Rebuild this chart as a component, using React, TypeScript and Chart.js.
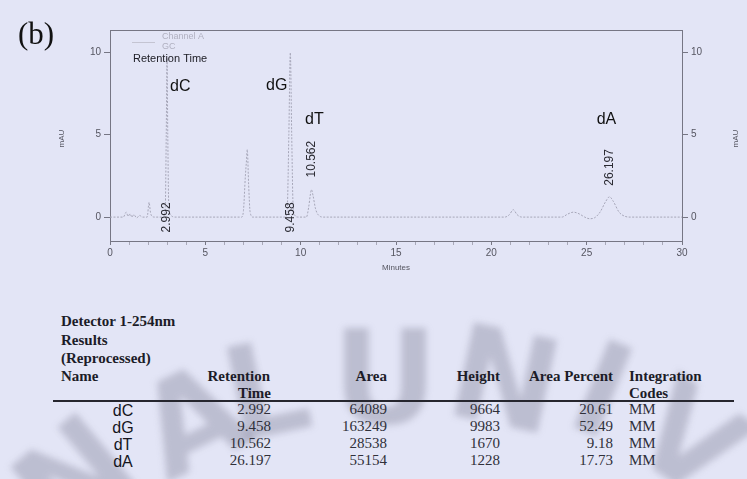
import React, { useEffect, useRef } from 'react';
import { Chart, registerables } from 'chart.js';

Chart.register(...registerables);

// ---------- chromatogram data (minutes, mAU) ----------
const times = [
  0, 0.7, 0.85, 0.95, 1.05, 1.15, 1.25, 1.4, 1.55, 1.7,
  1.95, 2.05, 2.12, 2.2, 2.35, 2.8, 2.9, 2.95, 2.992, 3.03,
  3.08, 3.2, 3.4, 6.9, 7.0, 7.1, 7.15, 7.2, 7.27, 7.35,
  7.5, 9.2, 9.3, 9.38, 9.458, 9.53, 9.6, 9.7, 9.85, 10.3,
  10.42, 10.5, 10.562, 10.65, 10.78, 10.95, 11.2, 20.7, 20.95, 21.15,
  21.35, 21.6, 23.7, 24.0, 24.3, 24.6, 24.9, 25.15, 25.4, 25.7,
  26.0, 26.197, 26.4, 26.7, 27.0, 27.3, 30,
];
const signal = [
  0, 0, 0.3, 0.05, 0.2, 0.0, 0.15, -0.05, 0.1, 0.0,
  0.0, 0.9, 0.3, 0.05, 0, 0, 0.6, 5.0, 9.66, 5.0,
  0.8, 0.1, 0, 0, 0.4, 2.5, 3.3, 4.1, 2.0, 0.3,
  0, 0, 0.6, 5.0, 9.98, 5.0, 0.8, 0.1, 0, 0,
  0.6, 1.3, 1.67, 1.3, 0.5, 0.1, 0, 0, 0.15, 0.45,
  0.15, 0, 0, 0.18, 0.3, 0.2, 0.0, -0.1, -0.05, 0.3,
  0.95, 1.23, 0.95, 0.3, 0.05, 0, 0,
];

// ---------- peaks / table ----------
const peakNames = ['dC', 'dG', 'dT', 'dA'];
const retentionTimes = ['2.992', '9.458', '10.562', '26.197'];
const areas = ['64089', '163249', '28538', '55154'];
const heights = ['9664', '9983', '1670', '1228'];
const areaPercents = ['20.61', '52.49', '9.18', '17.73'];
const codes = ['MM', 'MM', 'MM', 'MM'];

// ---------- axes ----------
const xMin = 0;
const xMax = 30;
const yMin = -1.45;
const yMax = 11.35;
const yTickValues = [0, 5, 10];

const SANS = 'Arial, "Liberation Sans", sans-serif';
const SERIF = '"Times New Roman", "Liberation Serif", serif';

const annotPlugin = {
  id: 'annot',
  afterDraw(chart: any) {
    const { ctx, chartArea: a, scales } = chart;
    const xs = scales.x;
    const ys = scales.y;
    const px = (v: number) => xs.getPixelForValue(v);
    const py = (v: number) => ys.getPixelForValue(v);
    ctx.save();
    // top frame line
    ctx.strokeStyle = '#767684';
    ctx.lineWidth = 1;
    ctx.beginPath();
    ctx.moveTo(a.left, Math.round(a.top) + 0.5);
    ctx.lineTo(a.right, Math.round(a.top) + 0.5);
    ctx.stroke();

    // legend
    ctx.strokeStyle = '#c4c4d2';
    ctx.beginPath();
    ctx.moveTo(a.left + 22, a.top + 12.5);
    ctx.lineTo(a.left + 45, a.top + 12.5);
    ctx.stroke();
    ctx.fillStyle = '#b0b0c0';
    ctx.font = `9px ${SANS}`;
    ctx.textBaseline = 'middle';
    ctx.textAlign = 'left';
    ctx.fillText('Channel A', a.left + 52, a.top + 7);
    ctx.fillText('GC', a.left + 52, a.top + 17);
    ctx.fillStyle = '#202028';
    ctx.font = `11px ${SANS}`;
    ctx.fillText('Retention Time', a.left + 23, a.top + 29);

    // peak names
    ctx.fillStyle = '#111';
    ctx.font = `16px ${SANS}`;
    const rt = retentionTimes.map(Number);
    ctx.textAlign = 'left';
    ctx.fillText(peakNames[0], px(rt[0]) + 3, py(7.9));
    ctx.textAlign = 'right';
    ctx.fillText(peakNames[1], px(rt[1]) - 3, py(7.95));
    ctx.textAlign = 'center';
    ctx.fillText(peakNames[2], px(rt[2]) + 3, py(5.9));
    ctx.fillText(peakNames[3], px(rt[3]) - 3, py(5.9));

    // rotated retention time labels
    const bottoms = [-0.93, -0.93, 2.4, 1.9];
    ctx.font = `12px ${SANS}`;
    ctx.fillStyle = '#2a2a32';
    rt.forEach((t, i) => {
      ctx.save();
      ctx.translate(px(t), py(bottoms[i]));
      ctx.rotate(-Math.PI / 2);
      ctx.textAlign = 'left';
      ctx.textBaseline = 'middle';
      ctx.fillText(retentionTimes[i], 0, 0);
      ctx.restore();
    });

    // axis titles
    ctx.fillStyle = '#555560';
    ctx.font = `8px ${SANS}`;
    const midY = (a.top + a.bottom) / 2 + 3;
    [62, 736].forEach((x) => {
      ctx.save();
      ctx.translate(x, midY);
      ctx.rotate(-Math.PI / 2);
      ctx.textAlign = 'center';
      ctx.textBaseline = 'middle';
      ctx.fillText('mAU', 0, 0);
      ctx.restore();
    });
    ctx.textAlign = 'center';
    ctx.textBaseline = 'middle';
    ctx.fillText('Minutes', (a.left + a.right) / 2, a.bottom + 27);
    ctx.restore();
  },
};

function ChromChart() {
  const ref = useRef<HTMLCanvasElement | null>(null);
  useEffect(() => {
    if (!ref.current) return;
    const fixTicks = (s: any) => {
      s.ticks = yTickValues.map((v) => ({ value: v }));
    };
    const yCommon = (w: number) => ({
      min: yMin,
      max: yMax,
      afterBuildTicks: fixTicks,
      afterFit: (s: any) => {
        s.width = w;
      },
      ticks: { color: '#555560', font: { family: SANS, size: 10 }, padding: 3 },
      grid: { drawOnChartArea: false, drawTicks: true, tickLength: 6, tickColor: '#767684' },
      border: { display: true, color: '#767684' },
    });
    const chart = new Chart(ref.current, {
      type: 'line',
      data: {
        datasets: [
          {
            data: times.map((t, i) => ({ x: t, y: signal[i] })),
            borderColor: '#a6a6b8',
            borderWidth: 1,
            borderDash: [2, 1.5],
            pointRadius: 0,
            cubicInterpolationMode: 'monotone',
            fill: false,
          },
        ],
      },
      options: {
        animation: false,
        responsive: false,
        devicePixelRatio: 1,
        layout: { padding: { top: 30, left: 0, right: 0, bottom: 0 } },
        plugins: { legend: { display: false }, tooltip: { enabled: false } },
        scales: {
          x: {
            type: 'linear',
            min: xMin,
            max: xMax,
            afterFit: (s: any) => {
              s.height = 49;
            },
            ticks: {
              stepSize: 1,
              autoSkip: false,
              maxRotation: 0,
              color: '#555560',
              font: { family: SANS, size: 10 },
              padding: 2,
              callback: (v: any) => (Number(v) % 5 === 0 ? String(v) : ''),
            },
            grid: {
              drawOnChartArea: false,
              drawTicks: true,
              tickLength: 4,
              tickColor: (c: any) => (c.tick && c.tick.value % 5 === 0 ? '#767684' : '#a8a8b8'),
            },
            border: { display: true, color: '#767684' },
          },
          y: { position: 'left', ...yCommon(110) },
          y2: { position: 'right', ...yCommon(65) },
        } as any,
      },
      plugins: [annotPlugin],
    } as any);
    return () => chart.destroy();
  }, []);
  return (
    <canvas
      ref={ref}
      width={747}
      height={290}
      style={{ position: 'absolute', left: 0, top: 0, width: 747, height: 290 }}
    />
  );
}

type TxtProps = {
  x: number;
  y: number;
  align?: 'left' | 'right' | 'center';
  style?: React.CSSProperties;
  children: React.ReactNode;
};
function Txt({ x, y, align = 'left', style, children }: TxtProps) {
  const tx = align === 'left' ? '0' : align === 'right' ? '-100%' : '-50%';
  return (
    <span
      style={{
        position: 'absolute',
        left: x,
        top: y,
        transform: `translate(${tx}, -50%)`,
        whiteSpace: 'nowrap',
        lineHeight: 1,
        ...style,
      }}
    >
      {children}
    </span>
  );
}

const watermark = [
  { ch: 'N', x: 75, y: 478, r: -40 },
  { ch: 'A', x: 192, y: 420, r: -26 },
  { ch: 'L', x: 266, y: 390, r: -12 },
  { ch: 'U', x: 385, y: 378, r: 0 },
  { ch: 'N', x: 505, y: 380, r: 12 },
  { ch: 'I', x: 602, y: 390, r: 22 },
  { ch: 'V', x: 690, y: 440, r: 35 },
];

export default function App() {
  const head: React.CSSProperties = {
    fontFamily: SERIF,
    fontWeight: 'bold',
    fontSize: 15,
    color: '#1c1c28',
  };
  const num: React.CSSProperties = { fontFamily: SERIF, fontSize: 15, color: '#30303a' };
  const nm: React.CSSProperties = { fontFamily: SANS, fontSize: 16, color: '#15151c' };
  const rowsY = [409, 426, 443, 460];
  return (
    <div
      style={{
        position: 'fixed',
        left: 0,
        top: 0,
        width: 747,
        height: 479,
        overflow: 'hidden',
        background: '#e3e5f6',
      }}
    >
      {watermark.map((w, i) => (
        <span
          key={'w' + i}
          style={{
            position: 'absolute',
            left: w.x,
            top: w.y,
            transform: `translate(-50%, -50%) rotate(${w.r}deg)`,
            fontFamily: '"DejaVu Sans", sans-serif',
            fontWeight: 'bold',
            fontSize: 130,
            lineHeight: 1,
            color: 'rgba(100,100,122,0.3)',
            filter: 'blur(3.5px)',
          }}
        >
          {w.ch}
        </span>
      ))}
      <ChromChart />
      <Txt x={18} y={33} style={{ fontFamily: SERIF, fontSize: 31, color: '#111' }}>
        (b)
      </Txt>

      <Txt x={61} y={321} style={head}>Detector 1-254nm</Txt>
      <Txt x={61} y={340} style={head}>Results</Txt>
      <Txt x={61} y={358} style={head}>(Reprocessed)</Txt>
      <Txt x={61} y={376} style={head}>Name</Txt>
      <Txt x={270} y={376} align="right" style={head}>Retention</Txt>
      <Txt x={271} y={393} align="right" style={head}>Time</Txt>
      <Txt x={387} y={376} align="right" style={head}>Area</Txt>
      <Txt x={500} y={376} align="right" style={head}>Height</Txt>
      <Txt x={613} y={376} align="right" style={head}>Area Percent</Txt>
      <Txt x={629} y={376} style={head}>Integration</Txt>
      <Txt x={629} y={393} style={head}>Codes</Txt>
      <div
        style={{
          position: 'absolute',
          left: 53,
          top: 400,
          width: 681,
          height: 1.5,
          background: '#26262e',
        }}
      />
      {peakNames.map((n, i) => (
        <React.Fragment key={n}>
          <Txt x={123} y={rowsY[i] + 2} align="center" style={nm}>{n}</Txt>
          <Txt x={271} y={rowsY[i]} align="right" style={num}>{retentionTimes[i]}</Txt>
          <Txt x={387} y={rowsY[i]} align="right" style={num}>{areas[i]}</Txt>
          <Txt x={500} y={rowsY[i]} align="right" style={num}>{heights[i]}</Txt>
          <Txt x={613} y={rowsY[i]} align="right" style={num}>{areaPercents[i]}</Txt>
          <Txt x={629} y={rowsY[i]} style={num}>{codes[i]}</Txt>
        </React.Fragment>
      ))}
    </div>
  );
}
